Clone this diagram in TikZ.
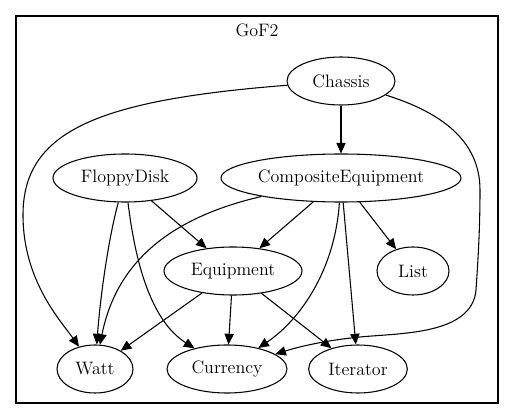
\documentclass[tikz,border=0pt]{standalone}
\usepackage{fontspec}
\usetikzlibrary{shapes.geometric,arrows.meta}
\begin{document}
\begin{tikzpicture}[x=0.75pt,y=-0.75pt,
  every node/.style={font=\rmfamily\addfontfeatures{FakeBold=0.35}\fontsize{13.5}{16}\selectfont},
  obj/.style={draw,ellipse,line width=0.8pt,inner sep=0pt,minimum height=36pt},
  edge/.style={line width=0.8pt,-{Triangle[length=8pt,width=7pt]}},
  frame/.style={draw,line width=0.9pt}]
\useasboundingbox (0,0) rectangle (515,420);
\node[frame,minimum width=361.5pt,minimum height=290.25pt,inner sep=0pt] (cluster) at (257,209.5) {};
\node (title) at (257,30) {GoF2};
\node[obj,minimum width=81pt] (Chassis) at (341,81) {Chassis};
\node[obj,minimum width=108pt] (FloppyDisk) at (125,178) {FloppyDisk};
\node[obj,minimum width=180pt] (CompositeEquipment) at (341,178) {CompositeEquipment};
\node[obj,minimum width=103.5pt] (Equipment) at (233,271) {Equipment};
\node[obj,minimum width=54pt] (List) at (413,271) {List};
\node[obj,minimum width=57pt] (Watt) at (95,369) {Watt};
\node[obj,minimum width=90pt] (Currency) at (227,369) {Currency};
\node[obj,minimum width=74pt] (Iterator) at (358,369) {Iterator};
% Chassis edges
\draw[edge] (Chassis) .. controls (100,100) and (23,130) .. (23,215)
  .. controls (23,280) and (60,320) .. (Watt);
\draw[edge] (Chassis) -- (CompositeEquipment);
\draw[edge] (Chassis) .. controls (440,112) and (480,140) .. (480,190)
  .. controls (480,230) and (478,260) .. (476,290)
  .. controls (472,335) and (400,333) .. (360,337)
  .. controls (320,341) and (295,348) .. (Currency);
% FloppyDisk edges
\draw[edge] (FloppyDisk) -- (Equipment);
\draw[edge] (FloppyDisk) .. controls (108,240) and (100,300) .. (Watt);
\draw[edge] (FloppyDisk) .. controls (135,260) and (150,320) .. (Currency);
% CompositeEquipment edges
\draw[edge] (CompositeEquipment) .. controls (160,220) and (115,270) .. (Watt);
\draw[edge] (CompositeEquipment) -- (Equipment);
\draw[edge] (CompositeEquipment) .. controls (335,270) and (300,320) .. (Currency);
\draw[edge] (CompositeEquipment) -- (Iterator);
\draw[edge] (CompositeEquipment) -- (List);
% Equipment edges
\draw[edge] (Equipment) -- (Watt);
\draw[edge] (Equipment) -- (Currency);
\draw[edge] (Equipment) -- (Iterator);
\end{tikzpicture}
\end{document}
